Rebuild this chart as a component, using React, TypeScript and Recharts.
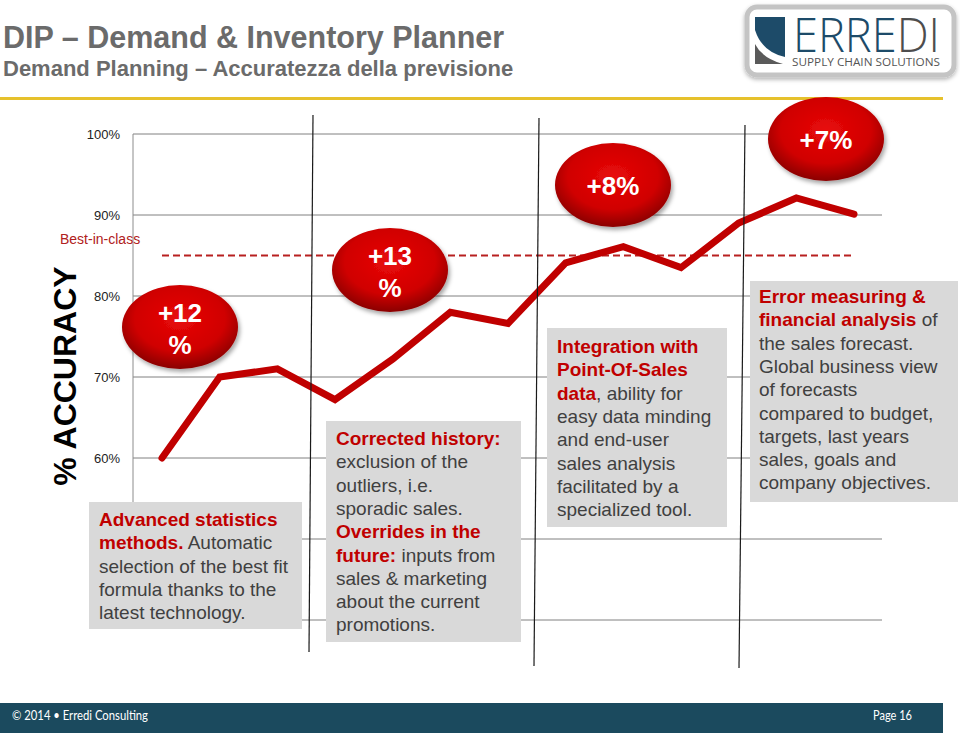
import React from "react";
import { LineChart, Line, XAxis, YAxis, CartesianGrid, ReferenceLine } from "recharts";

// 13 planning periods, forecast accuracy in %
const PERIODS = ["P1", "P2", "P3", "P4", "P5", "P6", "P7", "P8", "P9", "P10", "P11", "P12", "P13"];
const ACCURACY = [60, 70, 71, 67.2, 72.2, 78, 76.6, 84.1, 86.1, 83.5, 89, 92.1, 90.1];
const BEST_IN_CLASS = 85;
const Y_TICKS = [40, 50, 60, 70, 80, 90, 100];
const LABELLED_TICKS = [60, 70, 80, 90, 100];

const BADGES = ["+12\n%", "+13\n%", "+8%", "+7%"];

type Seg = [string, boolean];
const NOTE_1: Seg[][] = [
  [["Advanced statistics", true]],
  [["methods.", true], [" Automatic", false]],
  [["selection of the best fit", false]],
  [["formula thanks to the", false]],
  [["latest technology.", false]],
];
const NOTE_2: Seg[][] = [
  [["Corrected history:", true]],
  [["exclusion of the", false]],
  [["outliers, i.e.", false]],
  [["sporadic sales.", false]],
  [["Overrides in the", true]],
  [["future:", true], [" inputs from", false]],
  [["sales & marketing", false]],
  [["about the current", false]],
  [["promotions.", false]],
];
const NOTE_3: Seg[][] = [
  [["Integration with", true]],
  [["Point-Of-Sales", true]],
  [["data", true], [", ability for", false]],
  [["easy data minding", false]],
  [["and end-user", false]],
  [["sales analysis", false]],
  [["facilitated by a", false]],
  [["specialized tool.", false]],
];
const NOTE_4: Seg[][] = [
  [["Error measuring &", true]],
  [["financial analysis", true], [" of", false]],
  [["the sales forecast.", false]],
  [["Global business view", false]],
  [["of forecasts", false]],
  [["compared to budget,", false]],
  [["targets, last years", false]],
  [["sales, goals and", false]],
  [["company objectives.", false]],
];

const data = PERIODS.map((p, i) => ({ period: p, accuracy: ACCURACY[i] }));

const FONT = "'Liberation Sans', Arial, sans-serif";
const RED = "#c00000";
const TXT = "#404040";

function Note({ x, y, w, h, tx, ty, lines }: { x: number; y: number; w: number; h: number; tx: number; ty: number; lines: Seg[][] }) {
  return (
    <g>
      <rect x={x} y={y} width={w} height={h} fill="#d9d9d9" />
      {lines.map((segs, i) => (
        <text key={i} x={tx} y={ty + i * 23.3} fontSize={19} fontFamily={FONT}>
          {segs.map(([s, hl], j) => (
            <tspan key={j} fill={hl ? RED : TXT} fontWeight={hl ? "bold" : "normal"}>
              {s}
            </tspan>
          ))}
        </text>
      ))}
    </g>
  );
}

function Badge({ cx, cy, label }: { cx: number; cy: number; label: string }) {
  const parts = label.split("\n");
  return (
    <g>
      <ellipse cx={cx} cy={cy} rx={58} ry={42} fill="url(#badgeGrad)" filter="url(#badgeShadow)" />
      {parts.length === 1 ? (
        <text x={cx} y={cy + 10} textAnchor="middle" fill="#fff" fontWeight="bold" fontSize={26} fontFamily={FONT}>
          {parts[0]}
        </text>
      ) : (
        parts.map((t, i) => (
          <text key={i} x={cx} y={cy - 5 + i * 32} textAnchor="middle" fill="#fff" fontWeight="bold" fontSize={26} fontFamily={FONT}>
            {t}
          </text>
        ))
      )}
    </g>
  );
}

export default function App() {
  return (
    <div style={{ position: "relative", width: 960, height: 733, background: "#fff", overflow: "hidden" }}>
      <style>{`body{margin:0}`}</style>
      <LineChart width={960} height={733} data={data} margin={{ top: 134, right: 78, bottom: 113, left: 0 }}>
        <CartesianGrid vertical={false} stroke="#808080" />
        <XAxis dataKey="period" hide padding={{ left: 29, right: 28 }} />
        <YAxis
          width={133}
          domain={[40, 100]}
          ticks={Y_TICKS}
          tickFormatter={(v) => (LABELLED_TICKS.includes(v) ? `${v}%` : "")}
          tickSize={0}
          tickMargin={13}
          axisLine={{ stroke: "#8c8c8c" }}
          tick={{ fontSize: 13, fill: "#222", fontFamily: FONT }}
        />
        <ReferenceLine
          segment={[
            { x: "P1", y: BEST_IN_CLASS },
            { x: "P13", y: BEST_IN_CLASS },
          ]}
          stroke="#b82020"
          strokeWidth={2}
          strokeDasharray="7 4"
        />
        <Line
          dataKey="accuracy"
          stroke={RED}
          strokeWidth={7}
          strokeLinecap="round"
          dot={false}
          isAnimationActive={false}
        />
      </LineChart>

      <svg width={960} height={733} style={{ position: "absolute", left: 0, top: 0, pointerEvents: "none" }}>
        <defs>
          <radialGradient id="badgeGrad" cx="50%" cy="40%" r="60%">
            <stop offset="0%" stopColor="#e80a0a" />
            <stop offset="65%" stopColor="#d00000" />
            <stop offset="100%" stopColor="#8a0000" />
          </radialGradient>
          <filter id="badgeShadow" x="-20%" y="-20%" width="150%" height="150%">
            <feDropShadow dx={2} dy={3} stdDeviation={2} floodColor="#000" floodOpacity={0.35} />
          </filter>
          <filter id="logoShadow" x="-10%" y="-20%" width="120%" height="150%">
            <feDropShadow dx={0} dy={2} stdDeviation={2} floodColor="#000" floodOpacity={0.3} />
          </filter>
        </defs>

        {/* header */}
        <text x={3} y={48} fontSize={30.5} fontWeight="bold" fill="#6b6b6b" fontFamily={FONT}>
          DIP – Demand &amp; Inventory Planner
        </text>
        <text x={3} y={76} fontSize={22} fontWeight="bold" fill="#6b6b6b" fontFamily={FONT}>
          Demand Planning – Accuratezza della previsione
        </text>
        <rect x={0} y={97} width={943} height={3} fill="#e6c12c" />

        {/* logo */}
        <rect x={747} y={7} width={207} height={68} rx={10} fill="#fff" stroke="#c4c4c4" strokeWidth={5} filter="url(#logoShadow)" />
        <path d="M755,17 H785 V57 Q762,52 755,30 Z" fill="#1d4b69" />
        <path d="M755,44 Q762,58 783,64 H755 Z" fill="#5a5a5a" />
        <text x={793} y={52} fontSize={47} fontFamily="'Open Sans', Lato, sans-serif" fontWeight={300} textLength={147} lengthAdjust="spacingAndGlyphs">
          <tspan fill="#1d4b69">ERRE</tspan>
          <tspan fill="#4d4d4d">DI</tspan>
        </text>
        <text x={792} y={66} fontSize={11} fill="#555" fontFamily="'Open Sans', Lato, sans-serif" textLength={148} lengthAdjust="spacingAndGlyphs">
          SUPPLY CHAIN SOLUTIONS
        </text>

        {/* axis title and benchmark label */}
        <text
          x={0}
          y={0}
          transform="translate(76,376) rotate(-90)"
          textAnchor="middle"
          fontSize={32}
          fontWeight="bold"
          fill="#000"
          fontFamily={FONT}
        >
          % ACCURACY
        </text>
        <text x={60} y={244} fontSize={14} fill="#b02020" fontFamily={FONT}>
          Best-in-class
        </text>

        {/* phase separators */}
        <line x1={313} y1={115} x2={309} y2={652} stroke="#1a1a1a" strokeWidth={1.2} />
        <line x1={539} y1={118} x2={534} y2={666} stroke="#1a1a1a" strokeWidth={1.2} />
        <line x1={745} y1={125} x2={739} y2={668} stroke="#1a1a1a" strokeWidth={1.2} />

        {/* notes */}
        <Note x={89} y={502} w={213} h={127} tx={99} ty={526} lines={NOTE_1} />
        <Note x={326} y={421} w={195} h={221} tx={336} ty={445} lines={NOTE_2} />
        <Note x={547} y={328} w={180} h={199} tx={557} ty={353} lines={NOTE_3} />
        <Note x={750} y={281} w={208} h={221} tx={759} ty={303} lines={NOTE_4} />

        {/* improvement badges */}
        <Badge cx={180} cy={327} label={BADGES[0]} />
        <Badge cx={390} cy={270} label={BADGES[1]} />
        <Badge cx={613} cy={185} label={BADGES[2]} />
        <Badge cx={826} cy={139} label={BADGES[3]} />

        {/* footer */}
        <rect x={0} y={703} width={943} height={30} fill="#1b4a5e" />
        <text x={12} y={720} fontSize={12.5} fill="#fff" fontFamily="Lato, sans-serif" textLength={136} lengthAdjust="spacingAndGlyphs">
          © 2014 • Erredi Consulting
        </text>
        <text x={873} y={720} fontSize={12.5} fill="#fff" fontFamily="Lato, sans-serif" textLength={39} lengthAdjust="spacingAndGlyphs">
          Page 16
        </text>
      </svg>
    </div>
  );
}
